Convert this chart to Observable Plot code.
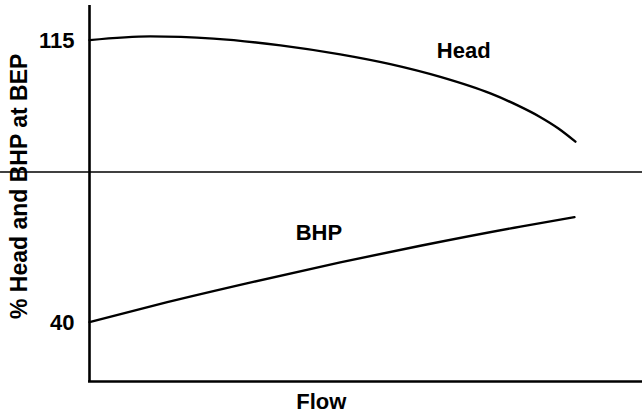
<!DOCTYPE html>
<html>
<head>
<meta charset="utf-8">
<script src="https://cdn.jsdelivr.net/npm/d3@7"></script>
<script src="https://cdn.jsdelivr.net/npm/@observablehq/plot@0.6"></script>
<style>
  html, body { margin: 0; padding: 0; background: #fff; }
</style>
</head>
<body>
<div id="chart"></div>
<script>
// Head curve (% of BEP) vs flow (arbitrary units, 100 = end of curves)
const headFlow = [0, 12.5, 25.5, 39.3, 51.6, 61.9, 72.2, 82.5, 88.0, 92.8, 96.5, 100];
const headValues = [115.1, 116.1, 115.5, 113.7, 111.3, 108.7, 105.3, 100.9, 97.8, 94.6, 91.6, 88.1];
// BHP curve
const bhpFlow = [0, 16.0, 33.7, 51.6, 68.1, 88.7, 99.8];
const bhpValues = [40.1, 45.4, 50.8, 56.0, 60.4, 65.5, 68.0];
// reference line (BEP level)
const refLevel = [80];
// tick labels on y axis
const yTicks = [40, 115];
// series labels
const seriesNames = ["Head", "BHP"];
const seriesLabelX = [77, 47.2];
const seriesLabelY = [112.3, 63.9];
const xTitle = "Flow";
const yTitle = "% Head and BHP at BEP";

const xDomain = [0, 113.8];
const yDomain = [24.3, 124.3];

const headData = headFlow.map((f, i) => ({flow: f, v: headValues[i]}));
const bhpData = bhpFlow.map((f, i) => ({flow: f, v: bhpValues[i]}));
const labelData = seriesNames.map((n, i) => ({name: n, x: seriesLabelX[i], y: seriesLabelY[i]}));

const font = "Liberation Sans, Arial, Helvetica, sans-serif";

const chart = Plot.plot({
  width: 642,
  height: 418,
  marginLeft: 89,
  marginRight: 0,
  marginTop: 5,
  marginBottom: 37,
  style: {fontFamily: font, fontWeight: "bold", fontSize: "22px", color: "#000", background: "#fff"},
  x: {domain: xDomain, axis: null},
  y: {domain: yDomain, axis: null},
  marks: [
    Plot.axisY(yTicks, {tickSize: 0, tickPadding: 15, fontSize: 22, fontWeight: "bold", label: null}),
    Plot.ruleY(refLevel, {x1: -18.31, x2: xDomain[1], stroke: "#000", strokeWidth: 1.4}),
    Plot.ruleX([xDomain[0]], {stroke: "#000", strokeWidth: 2.6}),
    Plot.ruleY([yDomain[0]], {x1: xDomain[0] - 0.2, x2: xDomain[1], stroke: "#000", strokeWidth: 2.6}),
    Plot.line(headData, {x: "flow", y: "v", curve: "monotone-x", stroke: "#000", strokeWidth: 2.4}),
    Plot.line(bhpData, {x: "flow", y: "v", curve: "monotone-x", stroke: "#000", strokeWidth: 2.4}),
    Plot.text(labelData, {x: "x", y: "y", text: "name", fontSize: 22, fontWeight: "bold", fill: "#000"}),
    Plot.text([xTitle], {x: 47.7, frameAnchor: "bottom", dy: 27, fontSize: 22, fontWeight: "bold", fill: "#000"}),
    Plot.text([yTitle], {y: 76.2, frameAnchor: "left", textAnchor: "middle", dx: -70, rotate: -90, fontSize: 23, fontWeight: "bold", fill: "#000"})
  ]
});
document.getElementById("chart").appendChild(chart);
</script>
</body>
</html>
